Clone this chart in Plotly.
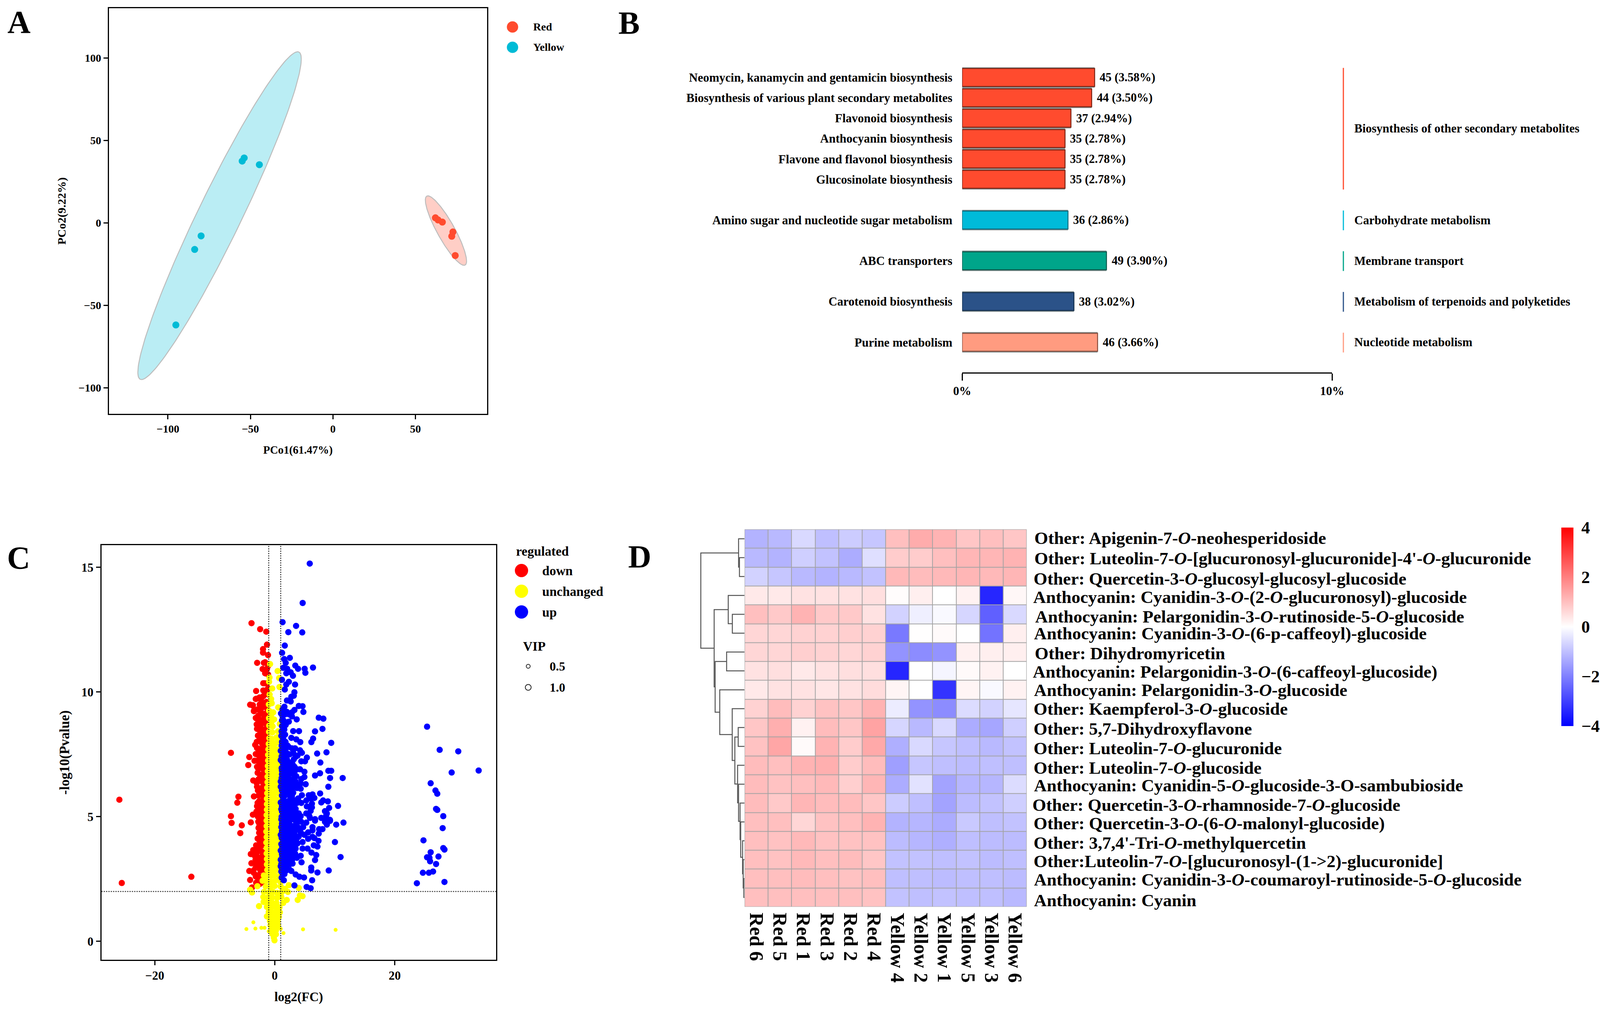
import numpy as np
import plotly.graph_objects as go

W, H = 4277, 2582
SERIF = "Liberation Serif"

# ---------- Panel A data ----------
pco_red_x = [62.1, 63.7, 66.3, 72.7, 72.0, 74.1]
pco_red_y = [3.1, 1.8, 0.5, -5.5, -8.1, -19.8]
pco_yellow_x = [-53.8, -55.0, -44.6, -79.9, -83.8, -95.2]
pco_yellow_y = [39.4, 37.5, 35.3, -7.9, -16.1, -61.9]

# ---------- Panel B data ----------
pathways = ["Neomycin, kanamycin and gentamicin biosynthesis", "Biosynthesis of various plant secondary metabolites",
            "Flavonoid biosynthesis", "Anthocyanin biosynthesis", "Flavone and flavonol biosynthesis",
            "Glucosinolate biosynthesis", "Amino sugar and nucleotide sugar metabolism", "ABC transporters",
            "Carotenoid biosynthesis", "Purine metabolism"]
path_counts = [45, 44, 37, 35, 35, 35, 36, 49, 38, 46]
path_pcts = [3.58, 3.50, 2.94, 2.78, 2.78, 2.78, 2.86, 3.90, 3.02, 3.66]
group_names = ["Biosynthesis of other secondary metabolites", "Carbohydrate metabolism", "Membrane transport",
               "Metabolism of terpenoids and polyketides", "Nucleotide metabolism"]
group_sizes = [6, 1, 1, 1, 1]
group_colors = ["#FF4B2E", "#00BBD9", "#00A58A", "#2B5288", "#FF9B80"]
group_edges = ["#7E2414", "#0A6E80", "#0A5A4C", "#14304F", "#8A5040"]

# ---------- Panel C data (log2FC, -log10 P) ----------
down_points = [(-25.9,5.68),(-25.5,2.34),(-13.9,2.59),(-7.3,7.56),(-4.24,7.39),(-4.41,7.07),(-3.58,6.45),(-6.05,5.8),(-6.24,5.56),
 (-7.3,5.02),(-7.19,4.75),(-5.49,4.65),(-5.74,4.34),(-3.47,5.81),(-2.95,6.2),(-4.1,9.49),(-3.64,9.47),(-3.06,9.73),(-3.47,9.24),
 (-3.06,8.94),(-2.85,8.55),(-3.26,7.88),(-3.16,7.51),(-3.37,7.24),(-2.95,7.0),(-2.85,6.76),(-3.99,4.77),(-3.64,5.08),(-2.95,5.42),
 (-2.74,4.8),(-2.85,4.12),(-3.58,3.66),(-3.99,3.5),(-2.85,3.81),(-3.89,3.13),(-4.24,2.82),(-3.62,2.82),(-4.1,2.46),(-3.16,2.6),
 (-3.78,2.16),(-3.87,12.76),(-2.43,12.52),(-1.41,12.42),(-1.29,11.9),(-1.95,11.72),(-1.95,11.58),(-1.12,11.48),(-2.93,11.17),
 (-1.6,11.19),(-1.81,11.17),(-2.02,10.92),(-1.29,10.93),(-1.6,10.75),(-1.91,10.35),(-1.29,10.35),(-3.1,10.04),(-1.91,10.06),
 (-1.29,10.04),(-3.16,9.72),(-2.54,9.78),(-1.91,9.83),(-3.68,9.46),(-1.4,9.6),(-3.47,9.23),(-2.33,9.23),(-3.16,8.96),(-1.91,9.1),
 (-2.95,8.52),(-2.5,9.5),(-2.1,9.38),(-2.6,8.9),(-2.2,8.72),(-1.6,8.8),(-2.4,8.4),(-1.7,8.5),(-2.0,8.22),(-1.5,8.25),(-2.6,8.06),
 (-2.1,7.92),(-1.6,7.98),(-2.7,7.72),(-2.2,7.68),(-1.5,7.72),(-2.5,7.42),(-1.9,7.45),(-1.5,7.4),(-2.6,7.18),(-2.0,7.2),(-1.6,7.12),
 (-2.4,6.95),(-1.9,6.92),(-1.5,6.85),(-2.45,6.68),(-2.0,6.66),(-1.6,6.6),(-2.2,6.42),(-1.7,6.35),(-2.5,6.12),(-2.0,6.15),(-1.55,6.08),
 (-2.4,5.9),(-1.9,5.85),(-1.5,5.8),(-2.6,5.62),(-2.1,5.6),(-1.6,5.55),(-2.55,5.38),(-2.05,5.35),(-1.55,5.28),(-2.5,5.12),(-1.9,5.08),
 (-1.5,5.02),(-2.2,4.85),(-1.7,4.82),(-2.3,4.62),(-1.8,4.55),(-1.4,4.6),(-2.0,4.38),(-1.5,4.3),(-2.2,4.15),(-1.7,4.05),(-1.35,4.12),
 (-1.9,3.85),(-1.45,3.82),(-2.3,3.62),(-3.0,3.55),(-1.8,3.58),(-1.4,3.55),(-2.6,3.35),(-3.2,3.28),(-1.95,3.32),(-1.5,3.3),(-2.7,3.1),
 (-2.1,3.12),(-1.45,3.02),(-1.9,2.88),(-2.8,2.65),(-2.4,2.55),(-2.0,2.62),(-3.2,2.95),(-2.75,2.4),(-2.2,2.35),(-1.6,2.72),
 (-1.3,9.35),(-1.75,9.55),(-1.4,9.15),(-1.3,8.95),(-1.9,8.9),(-1.35,8.7),(-2.1,8.5),(-1.35,8.45),(-1.85,8.3),(-1.3,8.1),(-1.35,7.85),
 (-1.8,7.75),(-1.3,7.6),(-2.1,7.55),(-1.3,7.35),(-1.75,7.3),(-1.3,7.1),(-2.3,7.4),(-1.35,6.9),(-2.3,7.05),(-1.3,6.7),(-1.8,6.78),(-1.3,6.45),
 (-2.0,6.45),(-1.3,6.2),(-1.9,6.25),(-1.3,5.95),(-2.1,5.95),(-1.3,5.7),(-1.9,5.7),(-1.3,5.45),(-1.85,5.45),(-1.3,5.2),(-2.3,5.25),(-1.3,4.95),
 (-1.7,5.0),(-2.1,5.0),(-1.3,4.7),(-2.0,4.72),(-2.55,4.7),(-1.3,4.45),(-1.7,4.42),(-2.4,4.4),(-1.3,4.2),(-1.3,3.95),(-2.3,3.9),(-1.3,3.7),
 (-2.5,3.75),(-1.3,3.45),(-1.3,3.2),(-2.0,3.45),(-1.3,2.95),(-2.4,3.2),(-1.4,2.75),(-2.4,2.85),(-2.0,2.4),(-1.6,2.45),(-1.7,10.35),(-1.1,10.7),
 (-1.1,10.15),(-1.1,9.9),(-1.6,10.05),(-1.1,11.05),
 (-2.9,9.3),(-2.75,9.05),(-3.0,8.7),(-2.6,8.55),(-2.8,8.25),(-3.0,8.0),(-2.95,7.75),(-2.9,7.5),(-2.85,7.25),(-2.8,6.95),(-2.7,6.5),(-3.0,6.35),
 (-2.8,6.05),(-2.7,5.85),(-2.85,5.55),(-3.05,5.2),(-2.8,5.0),(-2.7,4.55),(-2.6,4.35),(-2.55,4.05),(-3.1,3.85),(-2.7,3.65),(-3.4,3.45),(-3.05,3.1),
 (-2.55,2.95),(-3.5,2.75),(-3.1,2.35),(-2.5,2.3),(-2.3,9.7),(-2.3,8.1)]

yellow_big_points = [(-0.77,11.12),(0.48,10.84),(0.73,10.56),(-0.87,10.58),(-0.94,10.41),(-0.42,10.14),(0.79,10.2),(-0.85,9.9),(-0.6,9.72),
 (-0.98,9.5),(-0.5,9.55),(0.58,9.38),(-0.25,9.18),(-0.95,9.25),(-0.6,9.08),(-0.95,8.95),(-0.5,8.82),(-0.1,8.9),(-0.92,8.65),(-0.35,8.62),
 (0.85,8.72),(-0.95,8.4),(-0.4,8.38),(0.55,8.42),(-0.9,8.15),(-0.5,8.12),(0.3,8.18),(0.72,8.05),(-1.0,7.92),(-0.4,7.9),(0.2,7.95),
 (-1.05,7.7),(-0.5,7.68),(0.05,7.72),(0.55,7.7),(-1.1,7.48),(-0.55,7.45),(0.0,7.5),(0.5,7.46),(-1.1,7.25),(-0.5,7.24),(0.05,7.28),(0.6,7.22),
 (-1.15,7.03),(-0.55,7.02),(0.0,7.05),(0.6,7.0),(-1.15,6.82),(-0.5,6.8),(0.1,6.84),(0.65,6.78),(-1.2,6.6),(-0.6,6.58),(0.0,6.62),(0.7,6.56),
 (-1.2,6.38),(-0.55,6.36),(0.1,6.4),(0.75,6.34),(-1.25,6.16),(-0.6,6.14),(0.0,6.18),(0.75,6.12),(-1.25,5.94),(-0.55,5.92),(0.1,5.96),(0.8,5.9),
 (-1.3,5.72),(-0.6,5.7),(0.0,5.74),(0.8,5.68),(-1.3,5.5),(-0.55,5.48),(0.1,5.52),(0.8,5.46),(-1.3,5.28),(-0.6,5.26),(0.0,5.3),(0.8,5.24),
 (-1.35,5.06),(-0.55,5.04),(0.1,5.08),(0.8,5.02),(-1.35,4.84),(-0.6,4.82),(0.0,4.86),(0.75,4.8),(-1.35,4.62),(-0.55,4.6),(0.1,4.64),(0.75,4.58),
 (-1.4,4.4),(-0.6,4.38),(0.0,4.42),(0.75,4.36),(-1.35,4.18),(-0.55,4.16),(0.1,4.2),(0.7,4.14),(-1.4,3.96),(-0.6,3.94),(0.0,3.98),(0.75,3.92),
 (-1.35,3.74),(-0.55,3.72),(0.1,3.76),(0.75,3.7),(-1.35,3.52),(-0.6,3.5),(0.0,3.54),(0.75,3.48),(-1.3,3.3),(-0.55,3.28),(0.1,3.32),(0.75,3.26),
 (-1.3,3.08),(-0.6,3.06),(0.0,3.1),(0.75,3.04),(-1.25,2.86),(-0.55,2.84),(0.1,2.88),(0.8,2.82),(-1.81,2.64),(-1.2,2.64),(-0.6,2.62),(0.0,2.66),(0.85,2.6),
 (-2.02,2.43),(-1.4,2.42),(-0.6,2.4),(0.1,2.44),(0.95,2.38),(-2.89,2.21),(-1.5,2.2),(-0.7,2.18),(0.0,2.22),(1.0,2.2),(2.35,2.25),(4.01,2.14),(1.7,2.1),
 (-3.78,1.96),(-4.1,2.07),(-1.8,1.98),(-1.0,1.96),(-0.3,1.98),(0.4,1.94),(1.2,1.98),(2.2,1.98),(-1.9,1.78),(-1.1,1.76),(-0.4,1.76),(0.4,1.74),(1.1,1.78),
 (-1.85,1.58),(-1.2,1.56),(-0.5,1.56),(0.3,1.54),(1.41,1.54),(2.0,1.66),(3.83,1.66),(4.64,1.81),(4.2,1.84),(-2.62,1.41),(-1.3,1.38),(-0.6,1.36),(0.1,1.38),(0.8,1.36),
 (-1.0,1.18),(-0.4,1.16),(0.3,1.18),(0.85,1.16),(-1.3,1.0),(-0.6,0.98),(0.1,0.98),(0.7,0.98),(-0.8,0.82),(-0.2,0.8),(0.5,0.8),(-0.7,0.64),(-0.1,0.62),(0.55,0.62),
 (-0.5,0.46),(0.2,0.44),(-0.4,0.3),(0.2,0.28),(-0.15,0.15),(-0.04,0.04)]
yellow_small_points = [(-4.72,0.49),(-3.22,0.51),(-2.22,0.54),(-1.7,0.54),(-3.56,0.76),(4.72,0.48),(10.15,0.46),(1.46,0.33),(1.0,0.5),(-1.0,0.4)]

up_points = [(5.84,15.15),(4.66,13.57),(1.31,12.8),(3.56,12.65),(2.27,12.4),(4.59,12.39),(1.68,11.86),(1.23,11.57),(2.52,11.37),(1.58,11.32),
 (1.83,11.17),(3.43,11.06),(3.89,10.93),(1.41,10.97),(2.08,10.93),(4.99,10.93),(6.38,10.98),(5.11,10.77),(1.93,10.75),(2.66,10.79),(3.04,10.65),
 (1.21,10.49),(2.35,10.41),(1.93,10.3),(3.39,10.3),(1.68,10.1),(3.28,9.99),(3.18,9.85),(2.77,9.81),(2.04,9.66),(2.66,9.62),(1.62,9.41),(4.01,9.44),
 (4.64,9.43),(4.78,9.2),(7.34,8.97),(8.11,8.93),(7.96,8.52),(6.72,8.42),(6.40,8.13),(6.11,7.99),(9.42,7.96),(8.63,7.58),(7.07,7.53),(7.61,7.17),
 (8.94,6.84),(9.42,6.84),(7.55,6.74),(6.72,6.65),(9.23,6.55),(11.33,6.55),(8.94,6.2),(7.57,5.93),(3.29,9.28),(2.87,9.18),(2.04,9.2),(1.05,9.14),
 (2.87,9.02),(3.66,8.9),(1.31,9.02),(2.35,8.81),(1.83,8.68),(1.21,8.86),(1.21,8.63),(1.73,8.29),(3.08,8.43),(4.05,8.43),(2.77,8.16),(3.6,8.1),
 (4.26,7.99),(1.41,8.13),(1.1,8.24),(1.2,8.0),(2.14,7.85),(1.52,7.77),(2.87,7.74),(3.39,7.74),(1.0,7.64),(1.83,7.61),(4.22,7.66),(4.53,7.56),
 (2.25,7.51),(3.8,7.45),(3.49,7.4),(5.36,7.37),(1.0,7.27),(2.04,7.3),(3.18,7.3),(4.43,7.22),(5.05,7.22),(2.45,7.17),(1.41,7.11),(2.97,7.11),(1.83,6.96),
 (3.7,6.9),(4.22,6.9),(4.95,6.8),(1.2,6.7),(2.35,6.72),(2.97,6.72),(3.6,6.62),(4.95,6.59),(4.43,6.51),(1.0,6.41),(1.83,6.51),(2.66,6.46),(5.16,6.3),
 (4.33,6.33),(1.83,6.25),(2.97,6.3),(1.0,6.2),(3.7,6.15),(4.33,6.12),(2.35,6.09),(1.41,5.96),(3.08,5.96),(4.53,5.86),(5.68,5.86),(6.3,5.89),(6.61,5.75),
 (5.99,5.73),(3.91,5.73),(1.41,5.73),(2.87,5.83),(3.39,5.65),(1.0,5.57),(2.25,5.62),(4.43,5.55),(5.26,5.65),(6.2,5.52),(7.76,5.57),(8.07,5.65),(8.86,5.61),
 (10.56,5.43),(9.07,5.35),(8.38,5.22),(8.69,5.13),(5.36,5.41),(6.2,5.37),(1.62,5.41),(2.87,5.36),(3.49,5.31),(5.99,5.23),(5.26,5.13),(4.01,5.13),(1.21,5.21),
 (2.04,5.13),(2.87,5.15),(4.33,5.02),(5.78,5.02),(1.52,5.02),(2.45,5.02),(2.97,4.9),(6.72,4.9),(7.76,4.95),(8.59,4.9),(9.21,4.87),(11.46,4.76),(10.25,4.68),
 (8.59,5.05),(9.21,4.83),(8.69,4.68),(8.38,4.79),(6.72,4.84),(5.26,4.76),(5.88,4.95),(4.12,5.0),(1.62,4.79),(3.91,4.79),(1.1,4.89),(7.96,4.5),(7.4,4.5),(7.34,4.32),
 (6.3,4.58),(6.3,4.45),(4.74,4.58),(5.57,4.37),(2.77,4.55),(3.7,4.58),(1.62,4.48),(1.1,4.58),(2.25,4.4),(3.18,4.37),(4.33,4.37),(1.0,4.27),(1.62,4.21),(4.95,4.27),
 (6.3,4.19),(5.57,4.11),(6.61,4.14),(7.3,4.03),(10.04,3.98),(7.13,3.8),(6.51,3.85),(4.64,3.98),(3.8,3.93),(3.7,4.13),(2.66,4.11),(1.62,4.03),(2.25,3.87),(1.1,3.9),
 (4.64,3.72),(5.47,3.72),(3.49,3.72),(2.87,3.69),(1.0,3.64),(1.52,3.69),(6.13,3.56),(6.92,3.46),(6.72,3.26),(4.33,3.43),(3.7,3.35),(2.97,3.3),(2.04,3.48),(2.87,3.5),
 (1.41,3.46),(1.0,3.27),(2.14,3.22),(10.98,3.38),(4.47,3.17),(2.97,3.12),(1.0,3.01),(1.83,3.04),(1.41,2.86),(6.09,2.96),(6.09,2.84),(7.13,2.76),(9.0,2.84),(2.77,2.82),
 (3.49,2.68),(4.12,2.59),(4.89,2.56),(1.62,2.7),(6.24,2.45),(1.52,2.45),(3.29,2.24),(5.32,2.18),(5.99,2.13),
 (25.4,8.61),(27.5,7.68),(30.6,7.62),(34.0,6.85),(29.5,6.77),(26.0,6.34),(26.8,6.05),(27.1,5.92),(26.9,5.31),(27.1,5.27),(28.1,5.02),(28.0,4.54),(24.8,4.05),(28.1,3.74),
 (28.3,3.68),(26.0,3.57),(27.3,3.4),(25.4,3.37),(25.8,3.35),(25.9,3.21),(26.9,3.1),(24.7,2.75),(25.7,2.75),(26.4,2.8),(28.3,2.38),(23.7,2.33),
 (1.15,8.42),(1.6,8.5),(1.15,7.85),(1.55,7.45),(1.7,7.3),(1.15,7.42),(2.3,7.8),(1.15,6.95),(1.7,6.72),(1.15,6.55),(2.0,6.82),(1.5,6.35),(2.2,6.4),(1.2,6.05),(1.8,5.95),
 (2.3,5.88),(1.2,5.85),(1.8,5.55),(2.6,5.45),(1.2,5.42),(3.3,5.5),(1.8,5.2),(3.4,5.08),(1.15,5.0),(2.0,4.9),(3.4,4.85),(2.4,4.75),(1.2,4.72),(3.0,4.62),(2.1,4.6),(1.2,4.42),
 (3.5,4.45),(2.7,4.3),(2.0,4.22),(1.15,4.15),(3.0,4.05),(2.3,4.1),(1.4,4.0),(1.95,3.92),(1.25,3.78),(3.1,3.85),(2.5,3.8),(1.9,3.65),(1.2,3.5),(2.4,3.55),(3.4,3.52),(1.6,3.28),
 (2.5,3.3),(1.3,3.15),(2.4,3.1),(1.2,2.92),(2.0,2.85),(1.3,2.72),(1.15,2.55),(1.8,2.9),(1.5,3.1),
 (1.4,7.6),(1.7,7.85),(2.5,7.5),(3.1,7.55),(1.3,7.3),(2.2,7.1),(2.7,6.95),(3.3,7.0),(1.5,6.9),(2.5,6.9),(3.1,6.5),(3.3,6.8),(2.3,6.55),(1.4,6.55),(2.8,6.1),(3.5,6.4),(1.6,6.15),
 (2.1,6.1),(3.3,6.2),(3.9,6.2),(2.5,6.25),(1.2,6.3),(1.7,5.85),(2.6,5.7),(3.0,5.6),(3.7,5.55),(1.4,5.55),(2.2,5.35),(3.1,5.35),(1.3,5.2),(2.5,5.2),(3.6,5.1),(1.7,5.05),(3.3,4.95),
 (2.7,5.05),(4.4,4.8),(3.6,4.7),(2.1,4.75),(1.4,4.65),(2.6,4.55),(1.9,4.4),(3.3,4.55),(4.0,4.55),(1.4,4.3),(2.5,4.3),(3.4,4.25),(4.0,4.2),(1.3,4.1),(2.7,3.95),(3.3,4.05),(1.6,3.85),
 (2.2,3.7),(1.6,3.55),(2.9,3.9),(1.25,3.4),(1.9,3.35),(2.5,3.45),(1.3,3.25),(1.8,3.15),(1.1,3.1),(1.5,2.95),(1.1,2.8),(2.3,2.95),(1.5,8.85),(1.7,9.1),(1.3,9.3),(2.4,9.1),(1.45,8.65),
 (1.3,8.3),(1.4,7.95),(1.25,7.2),(1.2,6.85),(1.25,5.6),(1.1,5.3),(1.2,4.3),(1.1,3.65),(1.8,8.0),(1.6,7.1)]

vip_levels = ["0.5", "1.0"]

# ---------- Panel D data ----------
heat_columns = ["Red 6", "Red 5", "Red 1", "Red 3", "Red 2", "Red 4", "Yellow 4", "Yellow 2", "Yellow 1", "Yellow 5", "Yellow 3", "Yellow 6"]
heat_labels = ["Other: Apigenin-7-<i>O</i>-neohesperidoside",
 "Other: Luteolin-7-<i>O</i>-[glucuronosyl-glucuronide]-4'-<i>O</i>-glucuronide",
 "Other: Quercetin-3-<i>O</i>-glucosyl-glucosyl-glucoside",
 "Anthocyanin: Cyanidin-3-<i>O</i>-(2-<i>O</i>-glucuronosyl)-glucoside",
 "Anthocyanin: Pelargonidin-3-<i>O</i>-rutinoside-5-<i>O</i>-glucoside",
 "Anthocyanin: Cyanidin-3-<i>O</i>-(6-p-caffeoyl)-glucoside",
 "Other: Dihydromyricetin",
 "Anthocyanin: Pelargonidin-3-<i>O</i>-(6-caffeoyl-glucoside)",
 "Anthocyanin: Pelargonidin-3-<i>O</i>-glucoside",
 "Other: Kaempferol-3-<i>O</i>-glucoside",
 "Other: 5,7-Dihydroxyflavone",
 "Other: Luteolin-7-<i>O</i>-glucuronide",
 "Other: Luteolin-7-<i>O</i>-glucoside",
 "Anthocyanin: Cyanidin-5-<i>O</i>-glucoside-3-O-sambubioside",
 "Other: Quercetin-3-<i>O</i>-rhamnoside-7-<i>O</i>-glucoside",
 "Other: Quercetin-3-<i>O</i>-(6-<i>O</i>-malonyl-glucoside)",
 "Other: 3,7,4'-Tri-<i>O</i>-methylquercetin",
 "Other:Luteolin-7-<i>O</i>-[glucuronosyl-(1->2)-glucuronide]",
 "Anthocyanin: Cyanidin-3-<i>O</i>-coumaroyl-rutinoside-5-<i>O</i>-glucoside",
 "Anthocyanin: Cyanin"]
heat_values = [
 [-1.2,-1.1,-0.6,-1.0,-0.8,-0.9,1.0,1.3,1.2,0.9,1.0,0.9],
 [-1.1,-1.2,-0.75,-0.95,-1.3,-0.5,0.8,0.8,1.0,1.15,1.15,1.2],
 [-0.7,-0.9,-1.1,-1.2,-1.1,-0.95,1.1,1.05,1.1,1.15,1.1,1.15],
 [0.35,0.35,0.45,0.45,0.45,0.5,0.05,0.25,0.0,0.2,-3.4,0.12],
 [1.0,0.85,1.2,0.85,0.85,0.45,-0.7,-0.25,-0.1,-0.65,-2.5,-0.6],
 [0.65,0.65,0.7,0.7,0.75,0.7,-2.1,0.02,0.08,0.0,-2.2,0.25],
 [0.65,0.65,0.75,0.7,0.65,0.7,-1.7,-1.8,-1.7,0.22,0.25,0.25],
 [0.45,0.5,0.35,0.45,0.5,0.5,-3.4,0.0,-0.15,0.08,0.2,0.0],
 [0.35,0.45,0.45,0.4,0.45,0.55,0.15,0.0,-3.2,0.15,-0.1,0.2],
 [0.7,1.05,0.7,0.95,0.9,1.2,-0.3,-1.7,-1.8,-0.55,-0.7,-0.4],
 [0.9,1.25,0.22,1.05,0.9,1.45,-0.65,-1.1,-0.6,-1.3,-1.4,-0.75],
 [0.95,1.4,0.08,1.2,0.8,1.35,-1.25,-0.6,-0.9,-1.0,-1.1,-0.95],
 [1.05,1.0,1.2,1.25,0.8,1.05,-1.5,-0.9,-1.0,-1.05,-1.0,-1.0],
 [1.05,0.95,1.0,1.1,0.75,1.15,-1.3,-0.45,-1.45,-1.15,-1.15,-0.55],
 [1.05,0.85,1.15,1.05,1.05,0.9,-0.8,-1.0,-1.45,-1.05,-0.95,-0.75],
 [1.0,1.0,0.65,0.95,1.0,1.2,-1.2,-1.15,-1.3,-0.85,-1.0,-0.95],
 [1.0,0.95,1.1,0.95,0.95,0.95,-1.05,-1.15,-1.25,-1.0,-1.05,-1.05],
 [1.0,0.95,1.1,1.0,1.05,0.9,-0.95,-0.95,-1.0,-0.95,-1.05,-1.0],
 [1.0,1.0,1.05,1.0,0.95,1.0,-1.0,-1.0,-1.05,-1.0,-1.0,-1.05],
 [1.0,1.0,1.0,1.0,1.0,0.95,-0.95,-1.0,-0.95,-1.0,-1.0,-1.1]]
# dendrogram merges: (child a, child b, height); ints < 20 are rows, 20+k is merge k
dendro_merges = [(1,2,40),(0,20,47),(4,5,97),(3,22,130),(6,7,143),(10,11,50),(18,19,5),(17,26,10),(16,27,15),(15,28,30),
                 (14,29,35),(13,30,47),(12,31,55),(25,32,77),(9,33,98),(8,34,198),(24,35,235),(23,36,243),(21,37,350)]
heat_label_dy = [-2,2,6,4,6,1,3,2,1,1,3,5,7,3,5,4,5,4,3,8]
heat_label_x = [2763,2763,2761,2760,2765,2762,2764,2759,2762,2761,2761,2761,2761,2762,2758,2761,2761,2761,2762,2762]


def xd(a, b):
    return [a / W, b / W]


def yd(top, bottom):
    return [1 - bottom / H, 1 - top / H]


def paper(x, y):
    return x / W, 1 - y / H


def bold(size):
    return dict(family=SERIF, size=size, color="black", weight=700)


fig = go.Figure()
annotations = []
shapes = []


def text(x, y, s, size, anchor="left", angle=0):
    px_, py_ = paper(x, y)
    annotations.append(dict(x=px_, y=py_, xref="paper", yref="paper", text=s, showarrow=False, xanchor=anchor,
                            yanchor="middle", font=bold(size), textangle=angle))


def circle(x, y, d, fill, line=None, lw=0):
    # x and y are in the reference's pixels; the circle's size stays round in the 4096 wide page
    xw = d * W / 4096
    x0, y0 = paper(x - xw / 2, y - d / 2)
    x1, y1 = paper(x + xw / 2, y + d / 2)
    shapes.append(dict(type="circle", xref="paper", yref="paper", x0=x0, x1=x1, y0=y0, y1=y1, fillcolor=fill,
                       line=dict(color=line or fill, width=lw)))


# ---------- Panel A ----------
def ellipse(xs, ys, radius=2.448):
    pts = np.column_stack([xs, ys])
    c = pts.mean(axis=0)
    L = np.linalg.cholesky(np.cov(pts.T))
    t = np.linspace(0, 2 * np.pi, 181)
    e = c + radius * (np.column_stack([np.cos(t), np.sin(t)]) @ L.T)
    return e[:, 0], e[:, 1]


for xs, ys, col, fill, name in [(pco_red_x, pco_red_y, "#FF4B2E", "rgba(255,75,46,0.27)", "Red"),
                                (pco_yellow_x, pco_yellow_y, "#00BBD6", "rgba(0,187,214,0.27)", "Yellow")]:
    ex, ey = ellipse(xs, ys)
    fig.add_trace(go.Scatter(x=ex, y=ey, mode="lines", fill="toself", fillcolor=fill,
                             line=dict(color="#BDBDBD", width=2.5), xaxis="x", yaxis="y", hoverinfo="skip"))
    fig.add_trace(go.Scatter(x=xs, y=ys, mode="markers", marker=dict(color=col, size=18), name=name, xaxis="x", yaxis="y"))

circle(1370, 69, 29, "#FF4B2E")
circle(1370, 121, 29, "#00BBD6")
text(1423, 69, "Red", 28)
text(1423, 121, "Yellow", 28)

# ---------- Panel B ----------
rows, row = [], 0
row_colors, row_edges = [], []
for size, col, edge, name in zip(group_sizes, group_colors, group_edges, group_names):
    first = row
    for _ in range(size):
        rows.append(row)
        row_colors.append(col)
        row_edges.append(edge)
        row += 1
    last = row - 1
    sx, _u = paper(3591, 0)
    shapes.append(dict(type="line", xref="paper", yref="y3", x0=sx, x1=sx, y0=first - 0.47, y1=last + 0.5,
                       line=dict(color=col, width=3)))
    lx, _u = paper(3618, 0)
    annotations.append(dict(x=lx, y=(first + last) / 2, xref="paper", yref="y3", text=name, showarrow=False,
                            xanchor="left", yanchor="middle", font=bold(31)))
    row += 1

fig.add_trace(go.Bar(x=path_pcts, y=rows, orientation="h", width=1.0, marker=dict(color="#7F8A8A", line=dict(width=0)),
                     xaxis="x3", yaxis="y3", hoverinfo="skip"))
fig.add_trace(go.Bar(x=path_pcts, y=rows, orientation="h", width=0.88,
                     marker=dict(color=row_colors, line=dict(color=row_edges, width=2.5)), xaxis="x3", yaxis="y3"))
for c, p, r in zip(path_counts, path_pcts, rows):
    annotations.append(dict(x=p, y=r, xref="x3", yref="y3", text=f"{c} ({p:.2f}%)", showarrow=False, xanchor="left",
                            yanchor="middle", xshift=11, font=bold(30.6)))

# ---------- Panel C ----------
dn_x, dn_y = zip(*down_points)
yb_x, yb_y = zip(*yellow_big_points)
ys_x, ys_y = zip(*yellow_small_points)
up_x, up_y = zip(*up_points)
fig.add_trace(go.Scatter(x=dn_x, y=dn_y, mode="markers", marker=dict(color="#FF0000", size=16), name="down", xaxis="x2", yaxis="y2"))
fig.add_trace(go.Scatter(x=yb_x, y=yb_y, mode="markers", marker=dict(color="#FFFF00", size=16), name="unchanged", xaxis="x2", yaxis="y2"))
fig.add_trace(go.Scatter(x=ys_x, y=ys_y, mode="markers", marker=dict(color="#FFFF00", size=10), name="unchanged", xaxis="x2", yaxis="y2"))
fig.add_trace(go.Scatter(x=up_x, y=up_y, mode="markers", marker=dict(color="#0000FF", size=16), name="up", xaxis="x2", yaxis="y2"))
dot = dict(color="#333333", width=2.5, dash="dot")
shapes.append(dict(type="line", xref="x2", yref="y2 domain", x0=-1, x1=-1, y0=0, y1=1, line=dot))
shapes.append(dict(type="line", xref="x2", yref="y2 domain", x0=1, x1=1, y0=0, y1=1, line=dot))
shapes.append(dict(type="line", xref="x2 domain", yref="y2", x0=0, x1=1, y0=2, y1=2, line=dot))

text(1377, 1410, "regulated", 33.5)
for ly, col, lab in [(1460, "#FF0000", "down"), (1513, "#FFFF00", "unchanged"), (1566, "#0000FF", "up")]:
    circle(1394, ly, 34, col)
    text(1447, ly, lab, 33.5)
text(1396, 1653, "VIP", 33.5)
for ly, d, lab in zip([1705, 1759], [10, 15], vip_levels):
    circle(1412, ly, d, "white", "#222222", 2)
    text(1467, ly, lab, 32)

# ---------- Panel D ----------
fig.add_trace(go.Heatmap(z=heat_values, x=heat_columns, y=list(range(len(heat_labels))), xgap=2, ygap=2, zmin=-4, zmax=4,
                         colorscale=[[0, "#0000FF"], [0.5, "#FFFFFF"], [1, "#FF0000"]], xaxis="x4", yaxis="y4",
                         colorbar=dict(x=4174 / W, xanchor="left", y=1 - 1350 / H, yanchor="top", lenmode="pixels", len=508,
                                       thicknessmode="pixels", thickness=31, xpad=0, ypad=0, outlinewidth=0,
                                       tickvals=[-4, -2, 0, 2, 4], ticks="outside", ticklen=12, tickcolor="white",
                                       tickfont=bold(44))))
shapes.append(dict(type="rect", xref="x4 domain", yref="y4 domain", x0=0, x1=1, y0=0, y1=1, layer="below",
                   fillcolor="#A3A3A3", line=dict(width=0)))
for i, lab in enumerate(heat_labels):
    lx, _u = paper(heat_label_x[i], 0)
    annotations.append(dict(x=lx, y=i, xref="paper", yref="y4", text=lab, showarrow=False, xanchor="left", yanchor="middle",
                            yshift=-heat_label_dy[i], font=bold(45.2)))

node_y, node_h = {}, {}
for i in range(len(heat_labels)):
    node_y[i], node_h[i] = i, 0
dx, dy = [], []
for k, (a, b, h) in enumerate(dendro_merges):
    dx += [node_h[a], h, h, node_h[b], None]
    dy += [node_y[a], node_y[a], node_y[b], node_y[b], None]
    node_y[20 + k] = (node_y[a] + node_y[b]) / 2
    node_h[20 + k] = h
fig.add_trace(go.Scatter(x=dx, y=dy, mode="lines", line=dict(color="#555555", width=2.5), xaxis="x5", yaxis="y4", hoverinfo="skip"))

# panel letters
for (lx, ly), s in zip([(51, 57), (1682, 59), (50, 1427), (1710, 1424)], "ABCD"):
    text(lx, ly, s, 82, anchor="center")

frame = dict(showline=True, mirror=True, linecolor="black", linewidth=3, ticks="outside", ticklen=11, tickwidth=3,
             tickcolor="black", showgrid=False, zeroline=False)

fig.update_layout(
    width=W, height=H, margin=dict(l=0, r=0, t=0, b=0, pad=0, autoexpand=False), autosize=False, paper_bgcolor="white", plot_bgcolor="white",
    showlegend=False, barmode="overlay", font=dict(family=SERIF), annotations=annotations, shapes=shapes,
    xaxis=dict(domain=xd(291, 1302), range=[-135.8, 93.4], anchor="y", tickvals=[-100, -50, 0, 50], tickfont=bold(28),
               title=dict(text="PCo1(61.47%)", font=bold(28.5), standoff=30), **frame),
    yaxis=dict(domain=yd(21, 1059), range=[-115.8, 130.2], anchor="x", tickvals=[-100, -50, 0, 50, 100], tickfont=bold(28),
               title=dict(text="PCo2(9.22%)", font=bold(30), standoff=24), **frame),
    xaxis2=dict(domain=xd(271, 1326), range=[-28.9, 36.9], anchor="y2", tickvals=[-20, 0, 20], tickfont=bold(31),
                title=dict(text="log2(FC)", font=bold(33), standoff=26), **frame),
    yaxis2=dict(domain=yd(1395, 2456), range=[-0.74, 15.89], anchor="x2", tickvals=[0, 5, 10, 15], tickfont=bold(31),
                title=dict(text="-log10(Pvalue)", font=bold(35), standoff=21), **frame),
    xaxis3=dict(domain=xd(2572, 3561), range=[0, 10], anchor="y3", tickvals=[0, 10], ticktext=["0%", "10%"], tickfont=bold(31),
                showline=True, linecolor="black", linewidth=3, ticks="outside", ticklen=18, tickwidth=3, tickcolor="black",
                showgrid=False, zeroline=False),
    yaxis3=dict(domain=yd(167, 953), range=[14.48, -0.6], anchor="x3", tickvals=rows, ticktext=pathways, tickfont=bold(31),
                ticks="", ticklabelstandoff=24, showgrid=False, zeroline=False, showline=False),
    xaxis4=dict(domain=xd(1990.4, 2744.5), anchor="y4", tickangle=90, tickfont=bold(50), ticks="", ticklabelstandoff=14,
                tickmode="array", tickvals=heat_columns, ticktext=heat_columns,
                showgrid=False, zeroline=False, showline=False, type="category"),
    yaxis4=dict(domain=yd(1354.6, 2320.6), range=[19.5, -0.5], anchor="x4", showticklabels=False, ticks="", showgrid=False,
                zeroline=False, showline=False),
    xaxis5=dict(domain=xd(1860, 1990), range=[390, 0], anchor="y4", visible=False),
)

# the browser's page is narrower than the window that is asked for, so the figure takes the size of the page
fit = ("document.body.style.margin='0';"
       "Plotly.relayout('{plot_id}', {width: window.innerWidth, height: window.innerHeight});")
fig.write_html("out.html", post_script=fit, config={"displayModeBar": False})
